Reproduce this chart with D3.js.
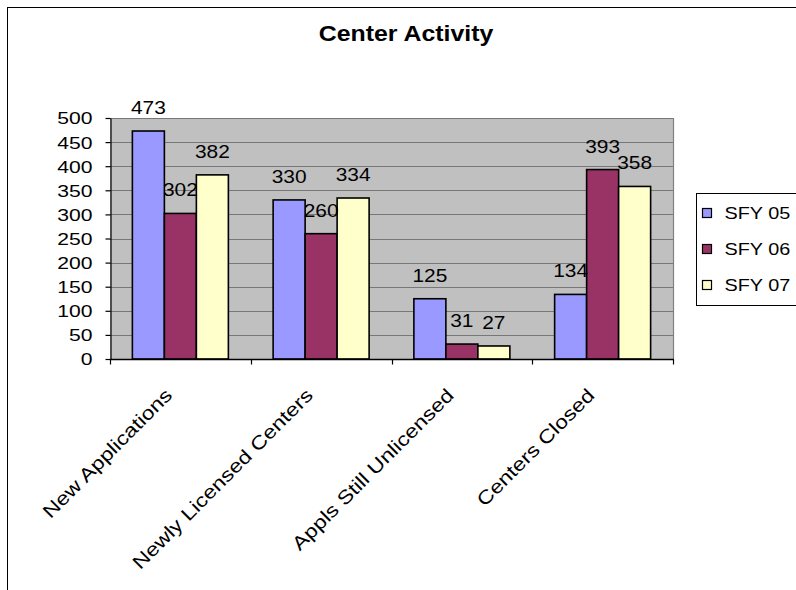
<!DOCTYPE html>
<html><head><meta charset="utf-8">
<script src="https://cdn.jsdelivr.net/npm/d3@7/dist/d3.min.js"></script>
<style>
html,body{margin:0;padding:0;background:#fff;}
svg{display:block;font-family:"Liberation Sans",Arial,sans-serif;}
</style></head>
<body>
<svg id="c" width="796" height="590"></svg>
<script>
const title = "Center Activity";
const categories = ["New Applications","Newly Licensed Centers","Appls Still Unlicensed","Centers Closed"];
const seriesNames = ["SFY 05","SFY 06","SFY 07"];
const sfy05 = [473,330,125,134];
const sfy06 = [302,260,31,393];
const sfy07 = [382,334,27,358];
const yTicks = [0,50,100,150,200,250,300,350,400,450,500];
const colors = ["#9999FF","#993366","#FFFFCC"];

const series = [sfy05, sfy06, sfy07];
const svg = d3.select("#c");
function stretch(sel, k){
  sel.each(function(){
    const w = this.getComputedTextLength();
    d3.select(this).attr("textLength", w*k).attr("lengthAdjust","spacingAndGlyphs");
  });
}

// outer chart border
svg.append("rect").attr("x",7.5).attr("y",7.5).attr("width",820).attr("height",620)
  .attr("fill","#fff").attr("stroke","#000").attr("stroke-width",1);

const P = {l:110, r:673, t:118, b:359};
const x0 = d3.scaleBand().domain(categories).range([P.l,P.r]).padding(0);
const bw = x0.bandwidth();
const groupW = bw*0.682;
const x1 = d3.scaleBand().domain(d3.range(series.length)).range([(bw-groupW)/2,(bw+groupW)/2]).padding(0);
const y = d3.scaleLinear().domain([0,500]).range([P.b,P.t]);

// plot background
svg.append("rect").attr("x",P.l).attr("y",P.t).attr("width",P.r-P.l).attr("height",P.b-P.t)
  .attr("fill","#C0C0C0");
// gridlines
svg.append("g").selectAll("line").data(yTicks.filter(d=>d>0)).join("line")
  .attr("x1",P.l).attr("x2",P.r).attr("y1",d=>Math.round(y(d))+0.5).attr("y2",d=>Math.round(y(d))+0.5)
  .attr("stroke","#777").attr("stroke-width",1.2);
// right border
svg.append("line").attr("x1",P.r+0.5).attr("x2",P.r+0.5).attr("y1",P.t).attr("y2",P.b)
  .attr("stroke","#808080").attr("stroke-width",1.2);

// bars
const g = svg.append("g");
series.forEach((vals,si)=>{
  g.selectAll(null).data(vals).join("rect")
    .attr("x",(d,i)=>x0(categories[i])+x1(si))
    .attr("y",d=>y(d))
    .attr("width",x1.bandwidth())
    .attr("height",d=>y(0)-y(d))
    .attr("fill",colors[si]).attr("stroke","#000").attr("stroke-width",1.6);
});
// data labels
series.forEach((vals,si)=>{
  const t = g.selectAll(null).data(vals).join("text")
    .attr("x",(d,i)=>x0(categories[i])+x1(si)+x1.bandwidth()/2)
    .attr("y",d=>y(d)-17)
    .attr("text-anchor","middle").attr("font-size",19).attr("fill","#000")
    .text(d=>d);
  stretch(t, 1.1);
});

// y axis
const yAxis = d3.axisLeft(y).tickValues(yTicks).tickSize(5).tickPadding(13).tickSizeOuter(0);
const ya = svg.append("g").attr("transform",`translate(${P.l+0.5},0)`).call(yAxis);
ya.select(".domain").attr("stroke","#000").attr("stroke-width",1.2);
ya.selectAll(".tick line").attr("stroke","#000").attr("stroke-width",1.2);
ya.selectAll(".tick text").attr("font-size",16.5).attr("font-family",null).attr("fill","#000").attr("dy","0.36em");
stretch(ya.selectAll(".tick text"), 1.28);

// x axis
const xa = svg.append("g").attr("transform",`translate(0,${P.b+0.5})`);
xa.append("line").attr("x1",P.l).attr("x2",P.r+1).attr("y1",0).attr("y2",0).attr("stroke","#000").attr("stroke-width",1.6);
xa.selectAll("line.tk").data(categories.concat(["__end"])).join("line").attr("class","tk")
  .attr("x1",(d,i)=>Math.round(P.l+i*bw)+0.5).attr("x2",(d,i)=>Math.round(P.l+i*bw)+0.5)
  .attr("y1",0).attr("y2",5).attr("stroke","#000").attr("stroke-width",1.2);
const xt = xa.selectAll("text").data(categories).join("text")
  .attr("transform",d=>`translate(${x0(d)+bw/2-7},37) rotate(-45)`)
  .attr("text-anchor","end").attr("font-size",19).attr("fill","#000")
  .text(d=>d);
stretch(xt, 1.2);

// title
const tt = svg.append("text").attr("x",406).attr("y",41).attr("text-anchor","middle")
  .attr("font-size",22).attr("font-weight","bold").text(title);
stretch(tt, 1.13);

// legend
const L = {x:696.5, y:193.5, w:120, h:112};
svg.append("rect").attr("x",L.x).attr("y",L.y).attr("width",L.w).attr("height",L.h)
  .attr("fill","#fff").attr("stroke","#000").attr("stroke-width",1);
const li = svg.append("g").selectAll("g").data(seriesNames).join("g")
  .attr("transform",(d,i)=>`translate(${L.x+6},${L.y+20+i*36})`);
li.append("rect").attr("x",0).attr("y",-5).attr("width",9).attr("height",9)
  .attr("fill",(d,i)=>colors[i]).attr("stroke","#000").attr("stroke-width",1.2);
const lt = li.append("text").attr("x",22).attr("y",0).attr("dy","0.36em").attr("font-size",16.5).text(d=>d);
stretch(lt, 1.2);
</script>
</body></html>
